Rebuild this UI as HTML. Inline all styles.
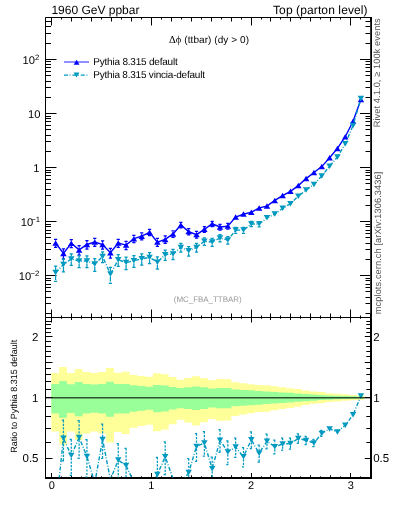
<!DOCTYPE html>
<html><head><meta charset="utf-8"><style>html,body{margin:0;padding:0;background:#fff;width:393px;height:512px;overflow:hidden;position:relative}</style></head>
<body><svg width="393" height="512" viewBox="0 0 393 512" style="position:absolute;left:0;top:0;will-change:transform;text-rendering:geometricPrecision"><path d="M51.30 373.10H59.13V367.00H66.96V373.10H74.78V369.00H82.61V372.10H90.44V373.10H98.27V372.10H106.10V368.00H113.92V372.80H121.75V371.80H129.58V375.10H137.41V376.10H145.24V376.80H153.06V373.20H160.89V374.20H168.72V377.10H176.55V379.80H184.38V378.10H192.21V376.30H200.03V378.30H207.86V380.20H215.69V379.10H223.52V379.30H231.35V382.20H239.17V383.20H247.00V384.20H254.83V385.10H262.66V385.30H270.49V386.30H278.31V387.30H286.14V388.20H293.97V389.10H301.80V390.60H309.63V391.60H317.45V392.10H325.28V393.20H333.11V393.70H340.94V394.30H348.77V394.90H356.59V395.40H364.42V399.65H356.59V400.18H348.77V400.82H340.94V401.47H333.11V402.02H325.28V403.26H317.45V403.83H309.63V404.99H301.80V406.80H293.97V407.91H286.14V409.05H278.31V410.35H270.49V411.69H262.66V411.96H254.83V413.20H247.00V414.61H239.17V416.06H231.35V420.52H223.52V420.84H215.69V419.10H207.86V422.15H200.03V425.56H192.21V422.48H184.38V419.73H176.55V424.17H168.72V429.38H160.89V431.29H153.06V424.69H145.24V425.91H137.41V427.71H129.58V434.08H121.75V432.07H113.92V442.39H106.10V433.47H98.27V431.49H90.44V433.47H82.61V440.09H74.78V431.49H66.96V444.78H59.13V431.49H51.30Z" fill="#ffff99"/><path d="M51.30 384.00H59.13V381.00H66.96V384.30H74.78V382.00H82.61V384.00H90.44V384.50H98.27V384.00H106.10V381.70H113.92V384.00H121.75V384.00H129.58V385.20H137.41V386.00H145.24V386.70H153.06V384.90H160.89V385.40H168.72V387.00H176.55V388.00H184.38V387.30H192.21V386.50H200.03V387.30H207.86V388.50H215.69V388.00H223.52V388.00H231.35V389.50H239.17V390.00H247.00V390.30H254.83V390.90H262.66V391.40H270.49V391.90H278.31V392.40H286.14V392.80H293.97V393.40H301.80V394.00H309.63V394.40H317.45V395.00H325.28V395.40H333.11V395.70H340.94V396.00H348.77V396.30H356.59V396.60H364.42V398.41H356.59V398.72H348.77V399.03H340.94V399.34H333.11V399.65H325.28V400.07H317.45V400.71H309.63V401.15H301.80V401.80H293.97V402.47H286.14V402.92H278.31V403.48H270.49V404.06H262.66V404.64H254.83V405.35H247.00V405.71H239.17V406.31H231.35V408.16H223.52V408.16H215.69V407.54H207.86V409.05H200.03V410.09H192.21V409.05H184.38V408.16H176.55V409.44H168.72V411.55H160.89V412.23H153.06V409.83H145.24V410.75H137.41V411.82H129.58V413.48H121.75V413.48H113.92V416.81H106.10V413.48H98.27V412.78H90.44V413.48H82.61V416.36H74.78V413.06H66.96V417.86H59.13V413.48H51.30Z" fill="#99ff99"/><path d="M45.5 17.5 H371 V317.5 H45.5 Z" fill="none" stroke="#000" stroke-width="1"/><path d="M45.5 317.5 V477.5" fill="none" stroke="#000" stroke-width="1"/><path d="M45.0 478 H372 M371 317.5 V478" fill="none" stroke="#000" stroke-width="2"/><path d="M371.2 17.0 V317.5" fill="none" stroke="#000" stroke-width="1.6"/><path d="M45.5 313.50h5.5M370 313.50h-4.5M45.5 303.50h5.5M370 303.50h-4.5M45.5 297.50h5.5M370 297.50h-4.5M45.5 291.50h5.5M370 291.50h-4.5M45.5 287.50h5.5M370 287.50h-4.5M45.5 284.50h5.5M370 284.50h-4.5M45.5 280.50h5.5M370 280.50h-4.5M45.5 278.50h5.5M370 278.50h-4.5M45.5 275.50h11M370 275.50h-10.0M45.5 259.50h5.5M370 259.50h-4.5M45.5 249.50h5.5M370 249.50h-4.5M45.5 243.50h5.5M370 243.50h-4.5M45.5 237.50h5.5M370 237.50h-4.5M45.5 233.50h5.5M370 233.50h-4.5M45.5 230.50h5.5M370 230.50h-4.5M45.5 226.50h5.5M370 226.50h-4.5M45.5 224.50h5.5M370 224.50h-4.5M45.5 221.50h11M370 221.50h-10.0M45.5 205.50h5.5M370 205.50h-4.5M45.5 195.50h5.5M370 195.50h-4.5M45.5 189.50h5.5M370 189.50h-4.5M45.5 183.50h5.5M370 183.50h-4.5M45.5 179.50h5.5M370 179.50h-4.5M45.5 175.50h5.5M370 175.50h-4.5M45.5 172.50h5.5M370 172.50h-4.5M45.5 170.50h5.5M370 170.50h-4.5M45.5 167.50h11M370 167.50h-10.0M45.5 151.50h5.5M370 151.50h-4.5M45.5 141.50h5.5M370 141.50h-4.5M45.5 135.50h5.5M370 135.50h-4.5M45.5 129.50h5.5M370 129.50h-4.5M45.5 125.50h5.5M370 125.50h-4.5M45.5 121.50h5.5M370 121.50h-4.5M45.5 118.50h5.5M370 118.50h-4.5M45.5 116.50h5.5M370 116.50h-4.5M45.5 113.50h11M370 113.50h-10.0M45.5 97.50h5.5M370 97.50h-4.5M45.5 87.50h5.5M370 87.50h-4.5M45.5 81.50h5.5M370 81.50h-4.5M45.5 75.50h5.5M370 75.50h-4.5M45.5 71.50h5.5M370 71.50h-4.5M45.5 67.50h5.5M370 67.50h-4.5M45.5 64.50h5.5M370 64.50h-4.5M45.5 61.50h5.5M370 61.50h-4.5M45.5 59.50h11M370 59.50h-10.0M45.5 43.50h5.5M370 43.50h-4.5M45.5 33.50h5.5M370 33.50h-4.5M45.5 26.50h5.5M370 26.50h-4.5M45.5 21.50h5.5M370 21.50h-4.5M45.5 17.50h5.5M370 17.50h-4.5M45.5 477.50h5.5M370 477.50h-3.7M45.5 458.50h7M370 458.50h-5.2M45.5 442.50h5.5M370 442.50h-3.7M45.5 428.50h5.5M370 428.50h-3.7M45.5 416.50h5.5M370 416.50h-3.7M45.5 406.50h5.5M370 406.50h-3.7M45.5 397.50h7M370 397.50h-5.2M45.5 389.50h5.5M370 389.50h-3.7M45.5 381.50h5.5M370 381.50h-3.7M45.5 374.50h5.5M370 374.50h-3.7M45.5 368.50h5.5M370 368.50h-3.7M45.5 362.50h7M370 362.50h-5.2M45.5 356.50h5.5M370 356.50h-3.7M45.5 351.50h5.5M370 351.50h-3.7M45.5 346.50h5.5M370 346.50h-3.7M45.5 341.50h5.5M370 341.50h-3.7M45.5 336.50h7M370 336.50h-5.2M45.5 332.50h5.5M370 332.50h-3.7M45.5 328.50h5.5M370 328.50h-3.7M45.5 324.50h5.5M370 324.50h-3.7M45.5 321.50h5.5M370 321.50h-3.7M51.50 17.5v8M51.50 317.5v-8M51.50 317.5v5M51.50 477.5v-4.5M61.50 17.5v2M61.50 317.5v-2M61.50 317.5v1.3M61.50 477.5v-1.1M71.50 17.5v4M71.50 317.5v-4M71.50 317.5v2.5M71.50 477.5v-2.2M81.50 17.5v2M81.50 317.5v-2M81.50 317.5v1.3M81.50 477.5v-1.1M91.50 17.5v4M91.50 317.5v-4M91.50 317.5v2.5M91.50 477.5v-2.2M101.50 17.5v2M101.50 317.5v-2M101.50 317.5v1.3M101.50 477.5v-1.1M111.50 17.5v4M111.50 317.5v-4M111.50 317.5v2.5M111.50 477.5v-2.2M121.50 17.5v2M121.50 317.5v-2M121.50 317.5v1.3M121.50 477.5v-1.1M131.50 17.5v4M131.50 317.5v-4M131.50 317.5v2.5M131.50 477.5v-2.2M141.50 17.5v2M141.50 317.5v-2M141.50 317.5v1.3M141.50 477.5v-1.1M151.50 17.5v8M151.50 317.5v-8M151.50 317.5v5M151.50 477.5v-4.5M161.50 17.5v2M161.50 317.5v-2M161.50 317.5v1.3M161.50 477.5v-1.1M171.50 17.5v4M171.50 317.5v-4M171.50 317.5v2.5M171.50 477.5v-2.2M181.50 17.5v2M181.50 317.5v-2M181.50 317.5v1.3M181.50 477.5v-1.1M191.50 17.5v4M191.50 317.5v-4M191.50 317.5v2.5M191.50 477.5v-2.2M201.50 17.5v2M201.50 317.5v-2M201.50 317.5v1.3M201.50 477.5v-1.1M211.50 17.5v4M211.50 317.5v-4M211.50 317.5v2.5M211.50 477.5v-2.2M221.50 17.5v2M221.50 317.5v-2M221.50 317.5v1.3M221.50 477.5v-1.1M231.50 17.5v4M231.50 317.5v-4M231.50 317.5v2.5M231.50 477.5v-2.2M241.50 17.5v2M241.50 317.5v-2M241.50 317.5v1.3M241.50 477.5v-1.1M251.50 17.5v8M251.50 317.5v-8M251.50 317.5v5M251.50 477.5v-4.5M261.50 17.5v2M261.50 317.5v-2M261.50 317.5v1.3M261.50 477.5v-1.1M270.50 17.5v4M270.50 317.5v-4M270.50 317.5v2.5M270.50 477.5v-2.2M280.50 17.5v2M280.50 317.5v-2M280.50 317.5v1.3M280.50 477.5v-1.1M290.50 17.5v4M290.50 317.5v-4M290.50 317.5v2.5M290.50 477.5v-2.2M300.50 17.5v2M300.50 317.5v-2M300.50 317.5v1.3M300.50 477.5v-1.1M310.50 17.5v4M310.50 317.5v-4M310.50 317.5v2.5M310.50 477.5v-2.2M320.50 17.5v2M320.50 317.5v-2M320.50 317.5v1.3M320.50 477.5v-1.1M330.50 17.5v4M330.50 317.5v-4M330.50 317.5v2.5M330.50 477.5v-2.2M340.50 17.5v2M340.50 317.5v-2M340.50 317.5v1.3M340.50 477.5v-1.1M350.50 17.5v8M350.50 317.5v-8M350.50 317.5v5M350.50 477.5v-4.5M360.50 17.5v2M360.50 317.5v-2M360.50 317.5v1.3M360.50 477.5v-1.1M370.50 17.5v4M370.50 317.5v-4M370.50 317.5v2.5M370.50 477.5v-2.2" stroke="#000" stroke-width="1" fill="none"/><defs><clipPath id="ct"><rect x="45.5" y="17.5" width="325.5" height="300.0"/></clipPath><clipPath id="cr"><rect x="45.5" y="317.5" width="325.5" height="160.0"/></clipPath></defs><g clip-path="url(#ct)"><polyline points="55.61,243.00 63.44,253.40 71.27,243.20 79.10,249.90 86.93,244.50 94.75,242.00 102.58,244.60 110.41,252.70 118.24,243.10 126.07,245.10 133.89,238.70 141.72,236.20 149.55,232.30 157.38,242.10 165.21,239.40 173.03,233.90 180.86,225.00 188.69,231.60 196.52,234.60 204.35,229.30 212.18,223.80 220.00,227.00 227.83,226.10 235.66,217.00 243.49,214.10 251.32,212.30 259.14,207.90 266.97,206.10 274.80,200.40 282.63,195.60 290.46,191.30 298.28,185.60 306.11,178.60 313.94,172.50 321.77,166.60 329.60,157.80 337.42,148.40 345.25,136.70 353.08,121.30 360.91,99.60" fill="none" stroke="#0000ff" stroke-width="1.4"/><path d="M55.61 239.33V240.50M54.01 239.33h3.2M55.61 245.50V247.36M54.01 247.36h3.2M63.44 248.90V250.90M61.84 248.90h3.2M63.44 255.90V258.98M61.84 258.98h3.2M71.27 239.51V240.70M69.67 239.51h3.2M71.27 245.70V247.58M69.67 247.58h3.2M79.10 245.69V247.40M77.50 245.69h3.2M79.10 252.40V255.03M77.50 255.03h3.2M86.93 240.72V242.00M85.33 240.72h3.2M86.93 247.00V249.01M85.33 249.01h3.2M94.75 238.40V239.50M93.15 238.40h3.2M94.75 244.50V246.26M93.15 246.26h3.2M102.58 240.81V242.10M100.98 240.81h3.2M102.58 247.10V249.12M100.98 249.12h3.2M110.41 248.26V250.20M108.81 248.26h3.2M110.41 255.20V258.18M108.81 258.18h3.2M118.24 239.42V240.60M116.64 239.42h3.2M118.24 245.60V247.47M116.64 247.47h3.2M126.07 241.27V242.60M124.47 241.27h3.2M126.07 247.60V249.68M124.47 249.68h3.2M133.89 235.33V236.20M132.29 235.33h3.2M133.89 241.20V242.64M132.29 242.64h3.2M141.72 232.99V233.70M140.12 232.99h3.2M141.72 238.70V239.92M140.12 239.92h3.2M149.55 229.33V229.80M147.95 229.33h3.2M149.55 234.80V235.70M147.95 235.70h3.2M157.38 238.49V239.60M155.78 238.49h3.2M157.38 244.60V246.37M155.78 246.37h3.2M165.21 235.98V236.90M163.61 235.98h3.2M165.21 241.90V243.41M163.61 243.41h3.2M173.03 230.83V231.40M171.43 230.83h3.2M173.03 236.40V237.43M171.43 237.43h3.2M180.86 222.43V222.50M179.26 222.43h3.2M180.86 227.50V227.88M179.26 227.88h3.2M188.69 228.67V229.10M187.09 228.67h3.2M188.69 234.10V234.95M187.09 234.95h3.2M196.52 231.49V232.10M194.92 231.49h3.2M196.52 237.10V238.19M194.92 238.19h3.2M204.35 226.50V226.80M202.75 226.50h3.2M204.35 231.80V232.48M202.75 232.48h3.2M212.18 221.30V221.30M210.58 221.30h3.2M212.18 226.30V226.60M210.58 226.60h3.2M220.00 224.33V224.50M218.40 224.33h3.2M220.00 229.50V230.01M218.40 230.01h3.2M227.83 223.48V223.60M226.23 223.48h3.2M227.83 228.60V229.05M226.23 229.05h3.2" stroke="#0000ff" stroke-width="1.25" fill="none"/><path d="M52.36 245.76L58.86 245.76L55.61 240.24ZM60.19 256.16L66.69 256.16L63.44 250.64ZM68.02 245.96L74.52 245.96L71.27 240.44ZM75.85 252.66L82.35 252.66L79.10 247.14ZM83.68 247.26L90.18 247.26L86.93 241.74ZM91.50 244.76L98.00 244.76L94.75 239.24ZM99.33 247.36L105.83 247.36L102.58 241.84ZM107.16 255.46L113.66 255.46L110.41 249.94ZM114.99 245.86L121.49 245.86L118.24 240.34ZM122.82 247.86L129.32 247.86L126.07 242.34ZM130.64 241.46L137.14 241.46L133.89 235.94ZM138.47 238.96L144.97 238.96L141.72 233.44ZM146.30 235.06L152.80 235.06L149.55 229.54ZM154.13 244.86L160.63 244.86L157.38 239.34ZM161.96 242.16L168.46 242.16L165.21 236.64ZM169.78 236.66L176.28 236.66L173.03 231.14ZM177.61 227.76L184.11 227.76L180.86 222.24ZM185.44 234.36L191.94 234.36L188.69 228.84ZM193.27 237.36L199.77 237.36L196.52 231.84ZM201.10 232.06L207.60 232.06L204.35 226.54ZM208.93 226.56L215.43 226.56L212.18 221.04ZM216.75 229.76L223.25 229.76L220.00 224.24ZM224.58 228.86L231.08 228.86L227.83 223.34ZM232.41 219.76L238.91 219.76L235.66 214.24ZM240.24 216.86L246.74 216.86L243.49 211.34ZM248.07 215.06L254.57 215.06L251.32 209.54ZM255.89 210.66L262.39 210.66L259.14 205.14ZM263.72 208.86L270.22 208.86L266.97 203.34ZM271.55 203.16L278.05 203.16L274.80 197.64ZM279.38 198.36L285.88 198.36L282.63 192.84ZM287.21 194.06L293.71 194.06L290.46 188.54ZM295.03 188.36L301.53 188.36L298.28 182.84ZM302.86 181.36L309.36 181.36L306.11 175.84ZM310.69 175.26L317.19 175.26L313.94 169.74ZM318.52 169.36L325.02 169.36L321.77 163.84ZM326.35 160.56L332.85 160.56L329.60 155.04ZM334.17 151.16L340.67 151.16L337.42 145.64ZM342.00 139.46L348.50 139.46L345.25 133.94ZM349.83 124.06L356.33 124.06L353.08 118.54ZM357.66 102.36L364.16 102.36L360.91 96.84Z" fill="#0000ff"/><polyline points="55.61,272.50 63.44,264.60 71.27,258.90 79.10,261.00 86.93,261.00 94.75,264.10 102.58,256.60 110.41,274.00 118.24,259.80 126.07,262.60 133.89,260.80 141.72,258.80 149.55,257.40 157.38,262.20 165.21,254.70 173.03,254.00 180.86,247.40 188.69,250.80 196.52,247.40 204.35,241.30 212.18,242.10 220.00,238.00 227.83,240.10 235.66,230.10 243.49,230.10 251.32,223.90 259.14,224.10 266.97,217.80 274.80,214.10 282.63,208.30 290.46,203.80 298.28,196.20 306.11,190.10 313.94,184.40 321.77,176.00 329.60,166.20 337.42,157.00 345.25,143.70 353.08,125.50 360.91,98.50" fill="none" stroke="#0099c0" stroke-width="1.4" stroke-dasharray="4 1.7 0.9 1.8"/><path d="M55.61 266.03V270.00M54.01 266.03h3.2M55.61 275.00V281.47M54.01 281.47h3.2M63.44 259.02V262.10M61.84 259.02h3.2M63.44 267.10V271.94M61.84 271.94h3.2M71.27 253.89V256.40M69.67 253.89h3.2M71.27 261.40V265.27M69.67 265.27h3.2M79.10 255.79V258.50M77.50 255.79h3.2M79.10 263.50V267.71M77.50 267.71h3.2M86.93 255.79V258.50M85.33 255.79h3.2M86.93 263.50V267.71M85.33 267.71h3.2M94.75 258.57V261.60M93.15 258.57h3.2M94.75 266.60V271.35M93.15 271.35h3.2M102.58 251.81V254.10M100.98 251.81h3.2M102.58 259.10V262.62M100.98 262.62h3.2M110.41 267.34V271.50M108.81 267.34h3.2M110.41 276.50V283.33M108.81 283.33h3.2M118.24 254.71V257.30M116.64 254.71h3.2M118.24 262.30V266.31M116.64 266.31h3.2M126.07 257.23V260.10M124.47 257.23h3.2M126.07 265.10V269.58M124.47 269.58h3.2M133.89 255.61V258.30M132.29 255.61h3.2M133.89 263.30V267.48M132.29 267.48h3.2M141.72 253.80V256.30M140.12 253.80h3.2M141.72 261.30V265.16M140.12 265.16h3.2M149.55 252.54V254.90M147.95 252.54h3.2M149.55 259.90V263.54M147.95 263.54h3.2M157.38 256.87V259.70M155.78 256.87h3.2M157.38 264.70V269.11M155.78 269.11h3.2M165.21 250.08V252.20M163.61 250.08h3.2M165.21 257.20V260.45M163.61 260.45h3.2M173.03 249.44V251.50M171.43 249.44h3.2M173.03 256.50V259.66M171.43 259.66h3.2M180.86 243.39V244.90M179.26 243.39h3.2M180.86 249.90V252.23M179.26 252.23h3.2M188.69 246.52V248.30M187.09 246.52h3.2M188.69 253.30V256.04M187.09 256.04h3.2M196.52 243.39V244.90M194.92 243.39h3.2M196.52 249.90V252.23M194.92 252.23h3.2M204.35 237.75V238.80M202.75 237.75h3.2M204.35 243.80V245.49M202.75 245.49h3.2M212.18 238.49V239.60M210.58 238.49h3.2M212.18 244.60V246.37M210.58 246.37h3.2M220.00 234.67V235.50M218.40 234.67h3.2M220.00 240.50V241.88M218.40 241.88h3.2M227.83 236.63V237.60M226.23 236.63h3.2M227.83 242.60V244.17M226.23 244.17h3.2M235.66 227.26V227.60M234.06 227.26h3.2M235.66 232.60V233.33M234.06 233.33h3.2M243.49 227.26V227.60M241.89 227.26h3.2M243.49 232.60V233.33M241.89 233.33h3.2M251.32 221.39V221.40M249.72 221.39h3.2M251.32 226.40V226.71M249.72 226.71h3.2M259.14 221.58V221.60M257.54 221.58h3.2M259.14 226.60V226.92M257.54 226.92h3.2" stroke="#0099c0" stroke-width="1.25" fill="none" stroke-dasharray="5 1"/><path d="M52.36 269.74L58.86 269.74L55.61 275.26ZM60.19 261.84L66.69 261.84L63.44 267.36ZM68.02 256.14L74.52 256.14L71.27 261.66ZM75.85 258.24L82.35 258.24L79.10 263.76ZM83.68 258.24L90.18 258.24L86.93 263.76ZM91.50 261.34L98.00 261.34L94.75 266.86ZM99.33 253.84L105.83 253.84L102.58 259.36ZM107.16 271.24L113.66 271.24L110.41 276.76ZM114.99 257.04L121.49 257.04L118.24 262.56ZM122.82 259.84L129.32 259.84L126.07 265.36ZM130.64 258.04L137.14 258.04L133.89 263.56ZM138.47 256.04L144.97 256.04L141.72 261.56ZM146.30 254.64L152.80 254.64L149.55 260.16ZM154.13 259.44L160.63 259.44L157.38 264.96ZM161.96 251.94L168.46 251.94L165.21 257.46ZM169.78 251.24L176.28 251.24L173.03 256.76ZM177.61 244.64L184.11 244.64L180.86 250.16ZM185.44 248.04L191.94 248.04L188.69 253.56ZM193.27 244.64L199.77 244.64L196.52 250.16ZM201.10 238.54L207.60 238.54L204.35 244.06ZM208.93 239.34L215.43 239.34L212.18 244.86ZM216.75 235.24L223.25 235.24L220.00 240.76ZM224.58 237.34L231.08 237.34L227.83 242.86ZM232.41 227.34L238.91 227.34L235.66 232.86ZM240.24 227.34L246.74 227.34L243.49 232.86ZM248.07 221.14L254.57 221.14L251.32 226.66ZM255.89 221.34L262.39 221.34L259.14 226.86ZM263.72 215.04L270.22 215.04L266.97 220.56ZM271.55 211.34L278.05 211.34L274.80 216.86ZM279.38 205.54L285.88 205.54L282.63 211.06ZM287.21 201.04L293.71 201.04L290.46 206.56ZM295.03 193.44L301.53 193.44L298.28 198.96ZM302.86 187.34L309.36 187.34L306.11 192.86ZM310.69 181.64L317.19 181.64L313.94 187.16ZM318.52 173.24L325.02 173.24L321.77 178.76ZM326.35 163.44L332.85 163.44L329.60 168.96ZM334.17 154.24L340.67 154.24L337.42 159.76ZM342.00 140.94L348.50 140.94L345.25 146.46ZM349.83 122.74L356.33 122.74L353.08 128.26ZM357.66 95.74L364.16 95.74L360.91 101.26Z" fill="#0099c0"/></g><g clip-path="url(#cr)"><polyline points="55.61,512.20 63.44,438.20 71.27,455.60 79.10,437.50 86.93,456.40 94.75,483.20 102.58,439.60 110.41,479.50 118.24,460.10 126.07,465.60 133.89,482.20 141.72,484.20 149.55,490.20 157.38,474.50 165.21,456.70 173.03,478.70 180.86,485.20 188.69,472.40 196.52,446.40 204.35,443.00 212.18,468.70 220.00,440.30 227.83,451.90 235.66,447.10 243.49,456.70 251.32,439.80 259.14,453.20 266.97,441.20 274.80,446.70 282.63,444.00 290.46,443.50 298.28,438.50 306.11,440.40 313.94,442.90 321.77,433.40 329.60,428.90 337.42,431.90 345.25,425.30 353.08,414.70 360.91,396.10" fill="none" stroke="#0099c0" stroke-width="1.4" stroke-dasharray="4 1.7 0.9 1.8"/><path d="M63.44 420.20V435.70M61.84 420.20h3.2M63.44 440.70V460.89M61.84 460.89h3.2M71.27 439.48V453.10M69.67 439.48h3.2M71.27 458.10V475.38M69.67 475.38h3.2M79.10 420.71V435.00M77.50 420.71h3.2M79.10 440.00V458.30M77.50 458.30h3.2M86.93 439.61V453.90M85.33 439.61h3.2M86.93 458.90V477.20M85.33 477.20h3.2M102.58 424.19V437.10M100.98 424.19h3.2M102.58 442.10V458.33M100.98 458.33h3.2M118.24 443.70V457.60M116.64 443.70h3.2M118.24 462.60V480.31M116.64 480.31h3.2M126.07 448.29V463.10M124.47 448.29h3.2M126.07 468.10V487.22M124.47 487.22h3.2M157.38 457.32V472.00M155.78 457.32h3.2M157.38 477.00V495.91M155.78 495.91h3.2M165.21 441.85V454.20M163.61 441.85h3.2M165.21 459.20V474.60M163.61 474.60h3.2M188.69 458.65V469.90M187.09 458.65h3.2M188.69 474.90V488.73M187.09 488.73h3.2M196.52 433.54V443.90M194.92 433.54h3.2M196.52 448.90V461.49M194.92 461.49h3.2M204.35 431.61V440.50M202.75 431.61h3.2M204.35 445.50V456.10M202.75 456.10h3.2M212.18 457.13V466.20M210.58 457.13h3.2M212.18 471.20V482.05M210.58 482.05h3.2M220.00 429.64V437.80M218.40 429.64h3.2M220.00 442.80V452.45M218.40 452.45h3.2M227.83 440.78V449.40M226.23 440.78h3.2M227.83 454.40V464.65M226.23 464.65h3.2M235.66 438.01V444.60M234.06 438.01h3.2M235.66 449.60V457.25M234.06 457.25h3.2M243.49 447.61V454.20M241.89 447.61h3.2M243.49 459.20V466.85M241.89 466.85h3.2M251.32 431.78V437.30M249.72 431.78h3.2M251.32 442.30V448.63M249.72 448.63h3.2M259.14 445.15V450.70M257.54 445.15h3.2M259.14 455.70V462.07M257.54 462.07h3.2M266.97 434.12V438.70M265.37 434.12h3.2M266.97 443.70V448.91M265.37 448.91h3.2M274.80 440.14V444.20M273.20 440.14h3.2M274.80 449.20V453.80M273.20 453.80h3.2M282.63 438.17V441.50M281.03 438.17h3.2M282.63 446.50V450.24M281.03 450.24h3.2M290.46 438.19V441.00M288.86 438.19h3.2M290.46 446.00V449.15M288.86 449.15h3.2M298.28 433.96V436.00M296.68 433.96h3.2M298.28 441.00V443.28M296.68 443.28h3.2M306.11 436.40V437.90M304.51 436.40h3.2M306.11 442.90V444.59M304.51 444.59h3.2M313.94 439.35V440.40M312.34 439.35h3.2M313.94 445.40V446.60M312.34 446.60h3.2M321.77 430.42V430.90M320.17 430.42h3.2M321.77 435.90V436.48M320.17 436.48h3.2" stroke="#0099c0" stroke-width="1.25" fill="none" stroke-dasharray="2.2 1.3"/><path d="M60.19 435.44L66.69 435.44L63.44 440.96ZM68.02 452.84L74.52 452.84L71.27 458.36ZM75.85 434.74L82.35 434.74L79.10 440.26ZM83.68 453.64L90.18 453.64L86.93 459.16ZM99.33 436.84L105.83 436.84L102.58 442.36ZM114.99 457.34L121.49 457.34L118.24 462.86ZM122.82 462.84L129.32 462.84L126.07 468.36ZM154.13 471.74L160.63 471.74L157.38 477.26ZM161.96 453.94L168.46 453.94L165.21 459.46ZM185.44 469.64L191.94 469.64L188.69 475.16ZM193.27 443.64L199.77 443.64L196.52 449.16ZM201.10 440.24L207.60 440.24L204.35 445.76ZM208.93 465.94L215.43 465.94L212.18 471.46ZM216.75 437.54L223.25 437.54L220.00 443.06ZM224.58 449.14L231.08 449.14L227.83 454.66ZM232.41 444.34L238.91 444.34L235.66 449.86ZM240.24 453.94L246.74 453.94L243.49 459.46ZM248.07 437.04L254.57 437.04L251.32 442.56ZM255.89 450.44L262.39 450.44L259.14 455.96ZM263.72 438.44L270.22 438.44L266.97 443.96ZM271.55 443.94L278.05 443.94L274.80 449.46ZM279.38 441.24L285.88 441.24L282.63 446.76ZM287.21 440.74L293.71 440.74L290.46 446.26ZM295.03 435.74L301.53 435.74L298.28 441.26ZM302.86 437.64L309.36 437.64L306.11 443.16ZM310.69 440.14L317.19 440.14L313.94 445.66ZM318.52 430.64L325.02 430.64L321.77 436.16ZM326.35 426.14L332.85 426.14L329.60 431.66ZM334.17 429.14L340.67 429.14L337.42 434.66ZM342.00 422.54L348.50 422.54L345.25 428.06ZM349.83 411.94L356.33 411.94L353.08 417.46ZM357.66 393.34L364.16 393.34L360.91 398.86Z" fill="#0099c0"/></g><line x1="45.5" y1="397.8" x2="371" y2="397.8" stroke="#000" stroke-width="1.4" stroke-opacity="0.68"/><text x="51.4" y="13.5" font-family="Liberation Sans, sans-serif" font-size="12" textLength="88.0" lengthAdjust="spacing">1960 GeV ppbar</text><text x="273.0" y="13.5" font-family="Liberation Sans, sans-serif" font-size="12" textLength="94.6" lengthAdjust="spacing">Top (parton level)</text><text x="169.0" y="42.6" font-family="Liberation Sans, sans-serif" font-size="10" textLength="80" lengthAdjust="spacing"><tspan font-family="Liberation Serif, serif" font-size="10.5">Δϕ</tspan> (ttbar) (dy &gt; 0)</text><line x1="64" y1="62" x2="89" y2="62" stroke="#0000ff" stroke-width="1.1" stroke-opacity="0.8"/><path d="M73.70 64.67L79.50 64.67L76.60 59.73Z" fill="#0000ff"/><line x1="64" y1="75.2" x2="89" y2="75.2" stroke="#0099c0" stroke-width="1.2" stroke-dasharray="4 1.7 0.9 1.8"/><path d="M73.60 72.53L79.40 72.53L76.50 77.47Z" fill="#0099c0"/><text x="93.3" y="64.7" font-family="Liberation Sans, sans-serif" font-size="10" textLength="84.4" lengthAdjust="spacing">Pythia 8.315 default</text><text x="93.3" y="78.1" font-family="Liberation Sans, sans-serif" font-size="10" textLength="111.7" lengthAdjust="spacing">Pythia 8.315 vincia-default</text><text x="173.8" y="302.4" font-family="Liberation Sans, sans-serif" font-size="8" textLength="67.9" lengthAdjust="spacing" fill="#9a9a9a">(MC_FBA_TTBAR)</text><text x="34.9" y="63.9" font-family="Liberation Sans, sans-serif" font-size="11.2" text-anchor="end">10</text><text x="39.4" y="59.9" font-family="Liberation Sans, sans-serif" font-size="7.8" text-anchor="end">2</text><text x="40.5" y="117.9" font-family="Liberation Sans, sans-serif" font-size="11.2" text-anchor="end">10</text><text x="39.5" y="171.9" font-family="Liberation Sans, sans-serif" font-size="11.2" text-anchor="end">1</text><text x="33.3" y="226.3" font-family="Liberation Sans, sans-serif" font-size="11.2" text-anchor="end">10</text><text x="40.2" y="222.3" font-family="Liberation Sans, sans-serif" font-size="7.8" text-anchor="end">−1</text><text x="31.3" y="280.4" font-family="Liberation Sans, sans-serif" font-size="11.2" text-anchor="end">10</text><text x="39.4" y="276.4" font-family="Liberation Sans, sans-serif" font-size="7.8" text-anchor="end">−2</text><text x="38.5" y="341.0" font-family="Liberation Sans, sans-serif" font-size="11.5" text-anchor="end">2</text><text x="373.2" y="341.0" font-family="Liberation Sans, sans-serif" font-size="11.5">2</text><text x="38.5" y="401.5" font-family="Liberation Sans, sans-serif" font-size="11.5" text-anchor="end">1</text><text x="373.2" y="401.5" font-family="Liberation Sans, sans-serif" font-size="11.5">1</text><text x="38.5" y="462.0" font-family="Liberation Sans, sans-serif" font-size="11.5" text-anchor="end">0.5</text><text x="373.2" y="462.0" font-family="Liberation Sans, sans-serif" font-size="11.5">0.5</text><text x="51.7" y="488.6" font-family="Liberation Sans, sans-serif" font-size="11" text-anchor="middle">0</text><text x="151.4" y="488.6" font-family="Liberation Sans, sans-serif" font-size="11" text-anchor="middle">1</text><text x="251.0" y="488.6" font-family="Liberation Sans, sans-serif" font-size="11" text-anchor="middle">2</text><text x="350.7" y="488.6" font-family="Liberation Sans, sans-serif" font-size="11" text-anchor="middle">3</text><text transform="translate(17.1,452.7) rotate(-90)" font-family="Liberation Sans, sans-serif" font-size="9" textLength="113.0" lengthAdjust="spacing">Ratio to Pythia 8.315 default</text><text transform="translate(380.2,127.3) rotate(-90)" font-family="Liberation Sans, sans-serif" font-size="9.2" textLength="109.0" lengthAdjust="spacing" fill="#555">Rivet 4.1.0, ≥ 100k events</text><text transform="translate(381.0,314.2) rotate(-90)" font-family="Liberation Sans, sans-serif" font-size="9.2" textLength="142.5" lengthAdjust="spacing" fill="#555">mcplots.cern.ch [arXiv:1306.3436]</text></svg></body></html>
